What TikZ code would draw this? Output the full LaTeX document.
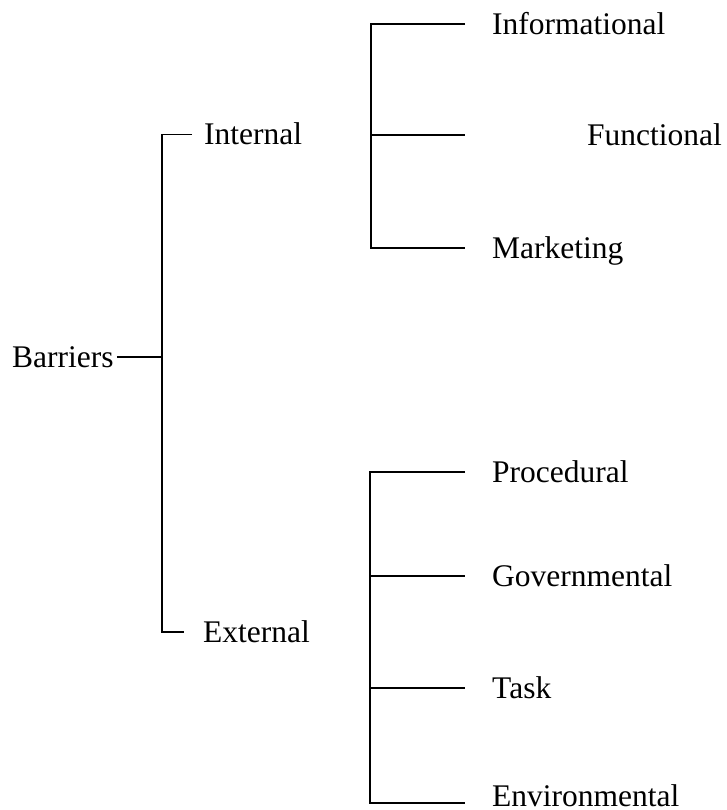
\documentclass[tikz,border=0pt]{standalone}
\usepackage{fontspec}
\setmainfont{Liberation Serif}
\usepackage{tikz}

\begin{document}
\begin{tikzpicture}[
  x=1pt, y=1pt,
  lbl/.style={
    anchor=west, inner xsep=3pt, inner ysep=0pt,
    text height=20.85pt, text depth=0pt,
    font=\fontsize{31.5}{36}\selectfont
  },
  link/.style={line width=1.8pt}
]
\useasboundingbox (0,0) rectangle (727,810);

% root and the two groups
\node[lbl] (barriers) at (9,453) {Barriers};
\node[lbl] (internal) at (201,675.5) {Internal};
\node[lbl] (external) at (200,178) {External};

% internal barriers
\node[lbl] (informational) at (489,786) {Informational};
\node[lbl] (functional) at (584,675) {Functional};
\node[lbl] (marketing) at (489,562) {Marketing};

% external barriers
\node[lbl] (procedural) at (489,338) {Procedural};
\node[lbl] (governmental) at (489,234) {Governmental};
\node[lbl] (task) at (489,122) {Task};
\node[lbl] (environmental) at (489,14) {Environmental};

\coordinate (root) at (162,453);
\coordinate (int-bar) at (371,0);
\coordinate (ext-bar) at (370,0);
\coordinate (stub) at (465,0);
\coordinate (env-tip) at (465,7);

% main bracket
\draw[link] (barriers) -- (root);
\draw[link] ([xshift=-9pt]internal.west) -| (root) |- ([xshift=-16pt]external.west);

% bracket of the internal group
\draw[link] (informational.west -| stub) -| (marketing.west -| int-bar) -- (marketing.west -| stub);
\draw[link] (functional.west -| int-bar) -- (functional.west -| stub);

% bracket of the external group
\draw[link] (procedural.west -| stub) -| (env-tip -| ext-bar) -- (env-tip);
\foreach \n in {governmental, task}
  \draw[link] (\n.west -| ext-bar) -- (\n.west -| stub);

\end{tikzpicture}
\end{document}
